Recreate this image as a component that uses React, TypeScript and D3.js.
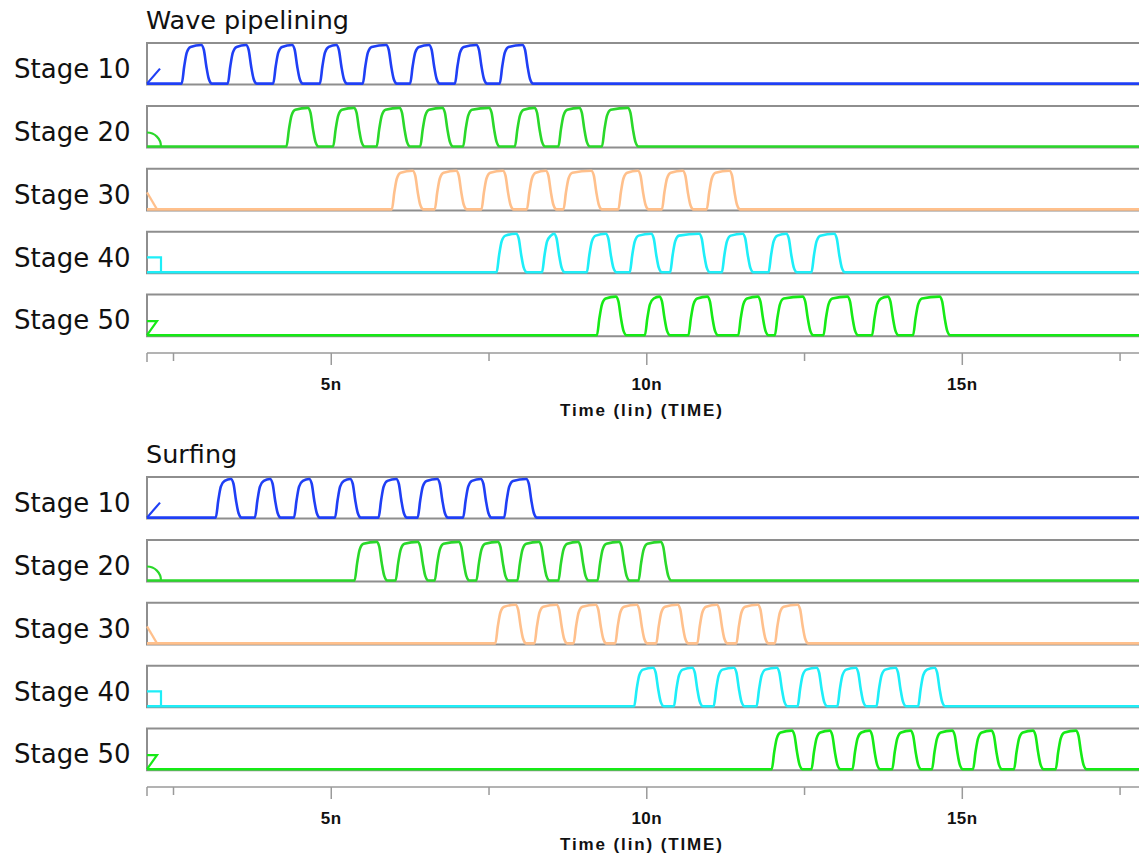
import * as d3 from "d3"

// time axis (ns)
const timeDomain: [number, number] = [2.08, 17.8]
const majorTicks = [5, 10, 15]
const majorLabels = ["5n", "10n", "15n"]
const minorTicks = [2.5, 7.5, 12.5, 17.5]
const axisTitle = "Time (lin) (TIME)"

const stageNames = ["Stage 10", "Stage 20", "Stage 30", "Stage 40", "Stage 50"]
const stageColors = ["#1f3ff5", "#2ad82a", "#ffc08c", "#1eeef8", "#16ea16"]

const panelTitles = ["Wave pipelining", "Surfing"]

// pulses as [rise start, fall end] in ns
const waveStage10 = [[2.63, 3.11], [3.36, 3.82], [4.08, 4.55], [4.82, 5.25], [5.5, 6.04], [6.25, 6.72], [6.96, 7.47], [7.67, 8.2]]
const waveStage20 = [[4.29, 4.8], [5.03, 5.53], [5.72, 6.25], [6.41, 6.93], [7.09, 7.67], [7.91, 8.39], [8.6, 9.1], [9.29, 9.87]]
const waveStage30 = [[5.96, 6.46], [6.64, 7.15], [7.38, 7.89], [8.1, 8.57], [8.68, 9.29], [9.55, 10.03], [10.24, 10.74], [10.95, 11.48]]
const waveStage40 = [[7.62, 8.1], [8.34, 8.7], [9.05, 9.52], [9.73, 10.24], [10.37, 11.0], [11.19, 11.69], [11.93, 12.38], [12.61, 13.14]]
const waveStage50 = [[9.21, 9.68], [9.97, 10.37], [10.66, 11.13], [11.45, 11.93], [12.03, 12.64], [12.8, 13.35], [13.57, 13.99], [14.22, 14.81]]

const surfStage10 = [[3.17, 3.58], [3.79, 4.2], [4.41, 4.82], [5.06, 5.47], [5.75, 6.2], [6.37, 6.85], [7.09, 7.54], [7.74, 8.26]]
const surfStage20 = [[5.37, 5.89], [6.02, 6.54], [6.64, 7.19], [7.3, 7.81], [7.95, 8.46], [8.6, 9.08], [9.22, 9.73], [9.87, 10.39]]
const surfStage30 = [[7.6, 8.09], [8.22, 8.74], [8.84, 9.36], [9.5, 10.01], [10.15, 10.66], [10.8, 11.28], [11.42, 11.93], [12.03, 12.56]]
const surfStage40 = [[9.8, 10.27], [10.43, 10.89], [11.06, 11.55], [11.74, 12.23], [12.39, 12.86], [13.02, 13.48], [13.64, 14.11], [14.3, 14.73]]
const surfStage50 = [[11.98, 12.47], [12.61, 13.07], [13.26, 13.7], [13.89, 14.35], [14.52, 15.01], [15.17, 15.63], [15.82, 16.29], [16.48, 16.97]]

const panelWaves = [
  [waveStage10, waveStage20, waveStage30, waveStage40, waveStage50],
  [surfStage10, surfStage20, surfStage30, surfStage40, surfStage50],
]

// small legend glyphs drawn at the left of each row
const markerPaths = [
  "M0,0 L13,-15",
  "M0,-14 A14,14 0 0 1 14,0",
  "M0,-17 L10,0",
  "M0,-15 L14,-15 L14,0",
  "M0,-14 L10,-14 L0,0",
]

// edge shape (offset in ns, level) so the pulses look like RC edges
const riseShape = [[0, 0], [0.04, 0.45], [0.08, 0.8], [0.14, 0.95]]
const fallShape = [[-0.17, 1], [-0.13, 0.88], [-0.09, 0.45], [-0.05, 0.12], [0, 0]]

const W = 1139
const H = 858
const panelTops = [43, 477]
const rowStep = 62.9
const rowH = 41.6
const axisOffset = 310

const x = d3.scaleLinear().domain(timeDomain).range([147, 1139])

function pulsePoints(pulses: number[][]): [number, number][] {
  const pts: [number, number][] = [[timeDomain[0], 0]]
  pulses.forEach(([r, f]) => {
    riseShape.forEach(([dt, v]) => pts.push([r + dt, v]))
    fallShape.forEach(([dt, v]) => pts.push([f + dt, v]))
  })
  pts.push([timeDomain[1], 0])
  return pts
}

function Row({ top, name, color, pulses, marker }: { top: number; name: string; color: string; pulses: number[][]; marker: string }) {
  const bottom = top + rowH
  const y = d3.scaleLinear().domain([0, 1]).range([bottom - 1, top + 2])
  const line = d3
    .line<[number, number]>()
    .x((d) => x(d[0]))
    .y((d) => y(d[1]))
    .curve(d3.curveMonotoneX)
  const x0 = x(timeDomain[0])
  const x1 = x(timeDomain[1])
  return (
    <g>
      <text x={130.5} y={top + 34.8} textAnchor="end" fontFamily="DejaVu Sans" fontSize={26} fill="#111">
        {name}
      </text>
      <path d={`M${x1},${top} L${x0},${top} L${x0},${bottom} L${x1},${bottom}`} fill="none" stroke="#8e8e8e" strokeWidth={2} />
      <path d={line(pulsePoints(pulses)) ?? ""} fill="none" stroke={color} strokeWidth={2.6} strokeLinejoin="round" />
      <path d={marker} transform={`translate(${x0},${bottom - 1})`} fill="none" stroke={color} strokeWidth={2.2} />
    </g>
  )
}

function Panel({ top, title, waves }: { top: number; title: string; waves: number[][][] }) {
  const axisY = top + axisOffset
  const x0 = x(timeDomain[0])
  const x1 = x(timeDomain[1])
  return (
    <g>
      <text x={146} y={top - 14} fontFamily="DejaVu Sans" fontSize={25.5} fill="#111">
        {title}
      </text>
      {waves.map((p, i) => (
        <Row key={i} top={top + i * rowStep} name={stageNames[i]} color={stageColors[i]} pulses={p} marker={markerPaths[i]} />
      ))}
      <line x1={x0} x2={x1} y1={axisY} y2={axisY} stroke="#9a9a9a" strokeWidth={1.5} />
      <line x1={x0} x2={x0} y1={axisY} y2={axisY + 9} stroke="#9a9a9a" strokeWidth={1.5} />
      {minorTicks.map((t) => (
        <line key={t} x1={x(t)} x2={x(t)} y1={axisY} y2={axisY + 8} stroke="#9a9a9a" strokeWidth={1.5} />
      ))}
      {majorTicks.map((t, i) => (
        <g key={t}>
          <line x1={x(t)} x2={x(t)} y1={axisY} y2={axisY + 12} stroke="#9a9a9a" strokeWidth={1.5} />
          <text
            x={x(t)}
            y={axisY + 37}
            textAnchor="middle"
            fontFamily="Liberation Sans"
            fontWeight="bold"
            fontSize={17}
            letterSpacing={0.5}
            fill="#111"
          >
            {majorLabels[i]}
          </text>
        </g>
      ))}
      <text
        x={(x0 + x1) / 2 - 2}
        y={axisY + 63}
        textAnchor="middle"
        fontFamily="Liberation Sans"
        fontWeight="bold"
        fontSize={17}
        textLength={162}
        lengthAdjust="spacing"
        fill="#111"
      >
        {axisTitle}
      </text>
    </g>
  )
}

export default function App() {
  return (
    <svg width={W} height={H} style={{ position: "absolute", left: 0, top: 0, background: "#fff" }}>
      <rect width={W} height={H} fill="#fff" />
      {panelTitles.map((t, i) => (
        <Panel key={t} top={panelTops[i]} title={t} waves={panelWaves[i]} />
      ))}
    </svg>
  )
}
